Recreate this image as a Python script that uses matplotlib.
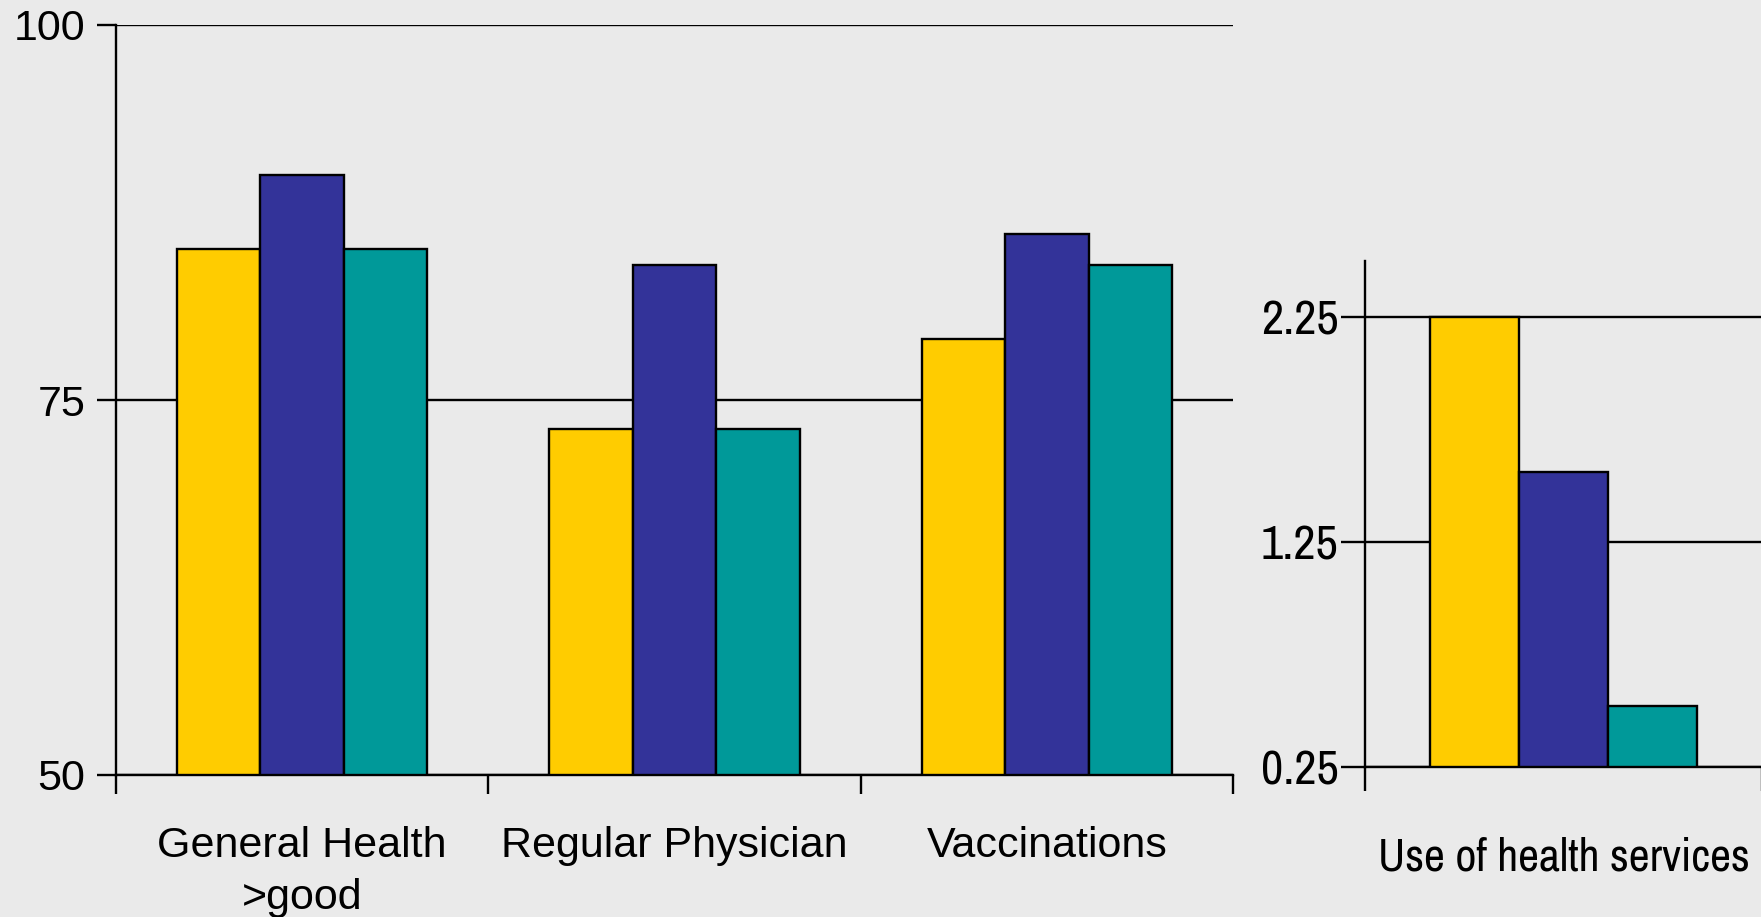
import matplotlib
matplotlib.use("Agg")
import matplotlib.pyplot as plt
from matplotlib import font_manager as fm

# ---- data ----
categories_left = ["General Health\n>good", "Regular Physician", "Vaccinations"]
series_a = [85.1, 73.1, 79.1]   # yellow
series_b = [90.0, 84.0, 86.1]   # blue
series_c = [85.1, 73.1, 84.0]   # teal

category_right = ["Use of health services"]
right_a = [2.25]
right_b = [1.56]
right_c = [0.52]

left_yticks = [50, 75, 100]
right_yticks = [0.25, 1.25, 2.25]
right_ytick_labels = ["0.25", "1.25", "2.25"]

colors = ["#FFCC00", "#333399", "#009999"]
bg = "#EAEAEA"

names = {f.name for f in fm.fontManager.ttflist}
main_font = "Liberation Sans" if "Liberation Sans" in names else "DejaVu Sans"
narrow_font = main_font
for cand in ["Archivo Narrow", "Pragati Narrow", "Roboto Condensed"]:
    if cand in names:
        narrow_font = cand
        break

fig = plt.figure(figsize=(17.61, 9.17), dpi=100, facecolor=bg)

W, H = 1761, 917
def rect(x0, x1, ytop, ybot):
    return [x0 / W, 1 - ybot / H, (x1 - x0) / W, (ybot - ytop) / H]

lw = 1.7
bar_w = 0.224

def style(ax):
    ax.set_facecolor(bg)
    for s in ["top", "right"]:
        ax.spines[s].set_visible(False)
    for s in ["left", "bottom"]:
        ax.spines[s].set_linewidth(lw)
    ax.set_axisbelow(True)
    ax.yaxis.grid(True, color="black", linewidth=lw)
    ax.tick_params(axis="both", which="major", length=14, width=lw, direction="out")

# ---- left axes ----
ax1 = fig.add_axes(rect(116, 1233, 25, 775))
style(ax1)
n = len(categories_left)
xs = list(range(n))
for k, (vals, c) in enumerate(zip([series_a, series_b, series_c], colors)):
    ax1.bar([x + (k - 1) * bar_w for x in xs], [v - 50 for v in vals], bottom=50,
            width=bar_w, color=c, edgecolor="black", linewidth=lw, zorder=3)
ax1.set_xlim(-0.5, n - 0.5)
ax1.set_ylim(50, 100)
ax1.set_yticks(left_yticks)
ax1.set_yticklabels([str(t) for t in left_yticks], fontsize=31, family=main_font)
ax1.tick_params(axis="y", pad=8)
ax1.set_xticks([x - 0.5 for x in range(n + 1)])
ax1.set_xticklabels([""] * (n + 1))
ax1.set_xticks(xs, minor=True)
ax1.set_xticklabels(categories_left, minor=True, fontsize=31, family=main_font,
                    va="top", linespacing=1.38)
ax1.tick_params(axis="x", which="minor", length=0, pad=37)

# ---- right axes ----
ax2 = fig.add_axes(rect(1365, 1762, 261, 767))
style(ax2)
ax2.tick_params(axis="both", which="major", length=17)
for k, (vals, c) in enumerate(zip([right_a, right_b, right_c], colors)):
    ax2.bar([0 + (k - 1) * bar_w], [v - 0.25 for v in vals], bottom=0.25,
            width=bar_w, color=c, edgecolor="black", linewidth=lw, zorder=3)
ax2.set_xlim(-0.5, 0.5)
ax2.set_ylim(0.25, 2.5)
ax2.set_yticks(right_yticks)
ax2.set_yticklabels(right_ytick_labels, fontsize=35, family=narrow_font)
ax2.tick_params(axis="y", pad=2)
ax2.set_xticks([-0.5, 0.5])
ax2.set_xticklabels(["", ""])
ax2.set_xticks([0], minor=True)
ax2.set_xticklabels(category_right, minor=True, fontsize=33, va="top", family=narrow_font)
ax2.tick_params(axis="x", which="minor", length=0, pad=50)
for sp in ax2.spines.values():
    sp.set_clip_on(False)

fig.savefig("out.png", dpi=100, facecolor=bg)
